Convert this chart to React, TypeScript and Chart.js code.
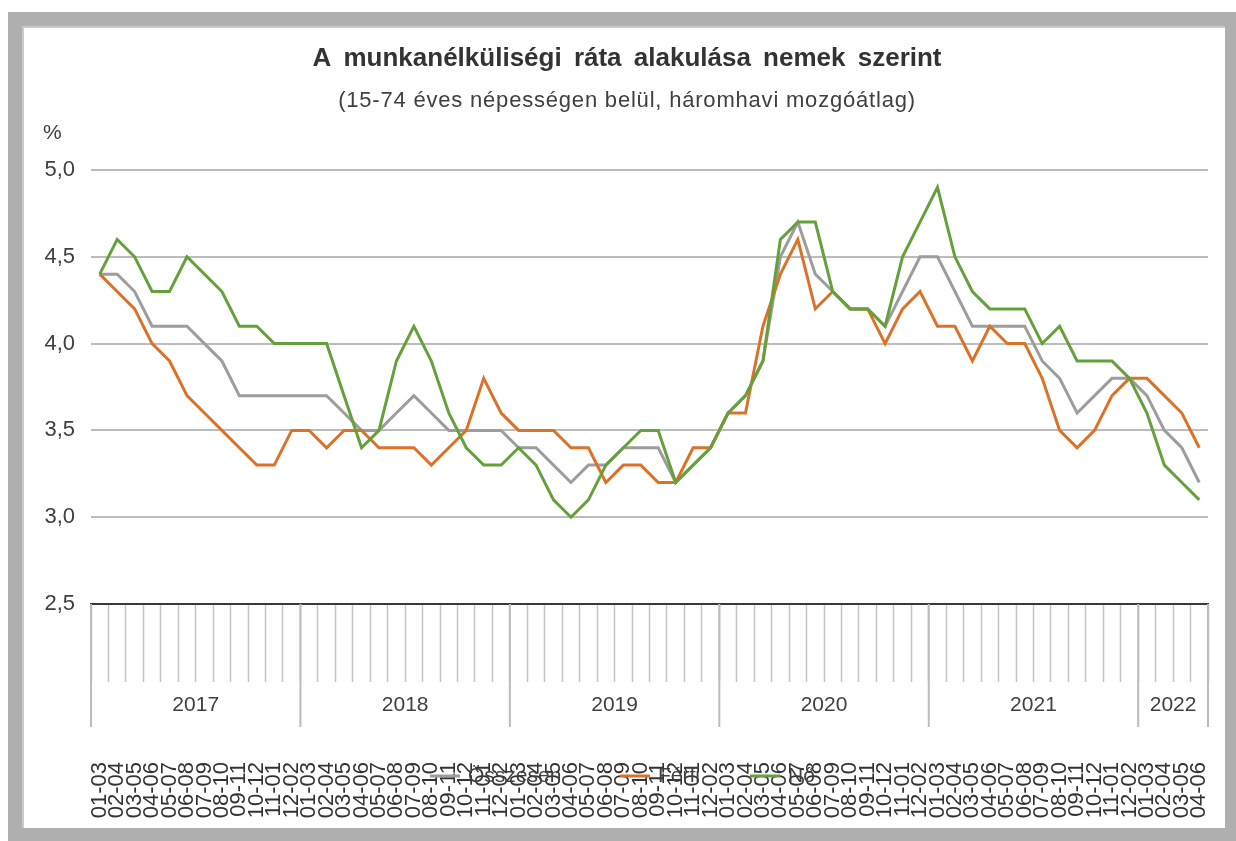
import { useEffect, useRef } from "react";
import { Chart, registerables } from "chart.js";

Chart.register(...registerables);

const FONT = "'Liberation Sans', Arial, sans-serif";

const chartTitle = "A munkanélküliségi ráta alakulása nemek szerint";
const chartSubtitle = "(15-74 éves népességen belül, háromhavi mozgóátlag)";
const unitLabel = "%";

const years = ["2017", "2018", "2019", "2020", "2021", "2022"];
const periodsPerYear = [12, 12, 12, 12, 12, 4];
const periods = ["01-03", "02-04", "03-05", "04-06", "05-07", "06-08", "07-09", "08-10", "09-11", "10-12", "11-01", "12-02"];

const seriesNames = ["Összesen", "Férfi", "Nő"];
const seriesColors = ["#9d9d9d", "#db7229", "#64a13b"];

const osszesen = [
  4.4, 4.4, 4.3, 4.1, 4.1, 4.1, 4.0, 3.9, 3.7, 3.7, 3.7, 3.7,
  3.7, 3.7, 3.6, 3.5, 3.5, 3.6, 3.7, 3.6, 3.5, 3.5, 3.5, 3.5,
  3.4, 3.4, 3.3, 3.2, 3.3, 3.3, 3.4, 3.4, 3.4, 3.2, 3.3, 3.4,
  3.6, 3.7, 3.9, 4.5, 4.7, 4.4, 4.3, 4.2, 4.2, 4.1, 4.3, 4.5,
  4.5, 4.3, 4.1, 4.1, 4.1, 4.1, 3.9, 3.8, 3.6, 3.7, 3.8, 3.8,
  3.7, 3.5, 3.4, 3.2,
];
const ferfi = [
  4.4, 4.3, 4.2, 4.0, 3.9, 3.7, 3.6, 3.5, 3.4, 3.3, 3.3, 3.5,
  3.5, 3.4, 3.5, 3.5, 3.4, 3.4, 3.4, 3.3, 3.4, 3.5, 3.8, 3.6,
  3.5, 3.5, 3.5, 3.4, 3.4, 3.2, 3.3, 3.3, 3.2, 3.2, 3.4, 3.4,
  3.6, 3.6, 4.1, 4.4, 4.6, 4.2, 4.3, 4.2, 4.2, 4.0, 4.2, 4.3,
  4.1, 4.1, 3.9, 4.1, 4.0, 4.0, 3.8, 3.5, 3.4, 3.5, 3.7, 3.8,
  3.8, 3.7, 3.6, 3.4,
];
const no = [
  4.4, 4.6, 4.5, 4.3, 4.3, 4.5, 4.4, 4.3, 4.1, 4.1, 4.0, 4.0,
  4.0, 4.0, 3.7, 3.4, 3.5, 3.9, 4.1, 3.9, 3.6, 3.4, 3.3, 3.3,
  3.4, 3.3, 3.1, 3.0, 3.1, 3.3, 3.4, 3.5, 3.5, 3.2, 3.3, 3.4,
  3.6, 3.7, 3.9, 4.6, 4.7, 4.7, 4.3, 4.2, 4.2, 4.1, 4.5, 4.7,
  4.9, 4.5, 4.3, 4.2, 4.2, 4.2, 4.0, 4.1, 3.9, 3.9, 3.9, 3.8,
  3.6, 3.3, 3.2, 3.1,
];

const yMin = 2.5;
const yMax = 5.0;
const yStep = 0.5;

const categories = years.flatMap((_, i) => periods.slice(0, periodsPerYear[i]));

const decorPlugin = {
  id: "decor",
  afterDraw(chart: any) {
    const { ctx, chartArea, scales } = chart;
    const xs = scales.x;
    ctx.save();

    // Titles
    ctx.fillStyle = "#333333";
    ctx.textAlign = "center";
    ctx.textBaseline = "middle";
    ctx.font = `bold 26px ${FONT}`;
    (ctx as any).letterSpacing = "0px";
    (ctx as any).wordSpacing = "5px";
    ctx.fillText(chartTitle, 605, 33);
    ctx.font = `22px ${FONT}`;
    (ctx as any).letterSpacing = "0.8px";
    (ctx as any).wordSpacing = "0px";
    ctx.fillStyle = "#404040";
    ctx.fillText(chartSubtitle, 605, 75);
    (ctx as any).letterSpacing = "0px";
    ctx.textAlign = "left";
    ctx.font = `21px ${FONT}`;
    ctx.fillText(unitLabel, 21, 107);

    // Year groups
    const axisY = chartArea.bottom;
    const half = (xs.getPixelForValue(1) - xs.getPixelForValue(0)) / 2;
    let start = 0;
    ctx.strokeStyle = "#bcbcbc";
    ctx.lineWidth = 2;
    ctx.font = `21px ${FONT}`;
    ctx.textAlign = "center";
    periodsPerYear.forEach((n, i) => {
      const left = xs.getPixelForValue(start) - half;
      const right = xs.getPixelForValue(start + n - 1) + half;
      ctx.beginPath();
      ctx.moveTo(left, axisY);
      ctx.lineTo(left, axisY + 123);
      if (i === periodsPerYear.length - 1) {
        ctx.moveTo(right, axisY);
        ctx.lineTo(right, axisY + 123);
      }
      ctx.stroke();
      ctx.fillStyle = "#404040";
      ctx.fillText(years[i], (left + right) / 2, axisY + 101);
      start += n;
    });

    // Legend (overlapping the category labels, as in the original)
    const legendY = 750;
    const legendX = [408, 598, 728];
    ctx.font = `21px ${FONT}`;
    ctx.textAlign = "left";
    chart.data.datasets.forEach((ds: any, i: number) => {
      const lx = legendX[i];
      ctx.strokeStyle = ds.borderColor;
      ctx.lineWidth = 3;
      ctx.beginPath();
      ctx.moveTo(lx, legendY);
      ctx.lineTo(lx + 30, legendY);
      ctx.stroke();
      ctx.fillStyle = "#404040";
      ctx.fillText(ds.label, lx + 38, legendY);
    });
    ctx.restore();
  },
};

export default function App() {
  const canvasRef = useRef<HTMLCanvasElement | null>(null);

  useEffect(() => {
    if (!canvasRef.current) return;
    const seriesData = [osszesen, ferfi, no];
    const chart = new Chart(canvasRef.current, {
      type: "line",
      data: {
        labels: categories,
        datasets: seriesNames.map((name, i) => ({
          label: name,
          data: seriesData[i],
          borderColor: seriesColors[i],
          backgroundColor: seriesColors[i],
          borderWidth: 3,
          pointRadius: 0,
          tension: 0,
          order: 3 - i,
        })),
      },
      options: {
        responsive: false,
        animation: false,
        layout: { padding: { top: 144, right: 17, bottom: 0, left: 0 } },
        plugins: {
          legend: { display: false },
          title: { display: false },
          tooltip: { enabled: false },
        },
        scales: {
          x: {
            type: "category",
            offset: true,
            grid: {
              display: true,
              offset: true,
              drawOnChartArea: false,
              drawTicks: true,
              tickLength: 78,
              tickColor: "#c4c4c4",
              tickWidth: 1.5,
            },
            border: { display: true, color: "#3a3a3a", width: 2 },
            ticks: {
              autoSkip: false,
              maxRotation: 90,
              minRotation: 90,
              padding: 80,
              color: "#333333",
              font: { size: 22, family: FONT },
            },
            afterFit: (s: any) => {
              s.height = 224;
              s.paddingLeft = 0;
              s.paddingRight = 0;
            },
          },
          y: {
            min: yMin,
            max: yMax,
            ticks: {
              stepSize: yStep,
              padding: 16,
              color: "#404040",
              font: { size: 22, family: FONT },
              callback: (v: any) => Number(v).toFixed(1).replace(".", ","),
            },
            grid: { color: "#bcbcbc", lineWidth: 2, drawTicks: false },
            border: { display: false },
            afterFit: (s: any) => {
              s.width = 69;
            },
          },
        },
      },
      plugins: [decorPlugin],
    });
    return () => chart.destroy();
  }, []);

  return (
    <div
      style={{
        position: "absolute",
        left: 8,
        top: 12,
        width: 1228,
        height: 829,
        background: "#afafaf",
        boxSizing: "border-box",
        paddingLeft: 14,
        paddingTop: 14,
        overflow: "hidden",
      }}
    >
      <div style={{ width: 1203, height: 802, background: "#ffffff", boxShadow: "inset 2px 2px 0 #c9c9c9" }}>
        <canvas ref={canvasRef} width={1203} height={802} style={{ display: "block" }} />
      </div>
    </div>
  );
}
